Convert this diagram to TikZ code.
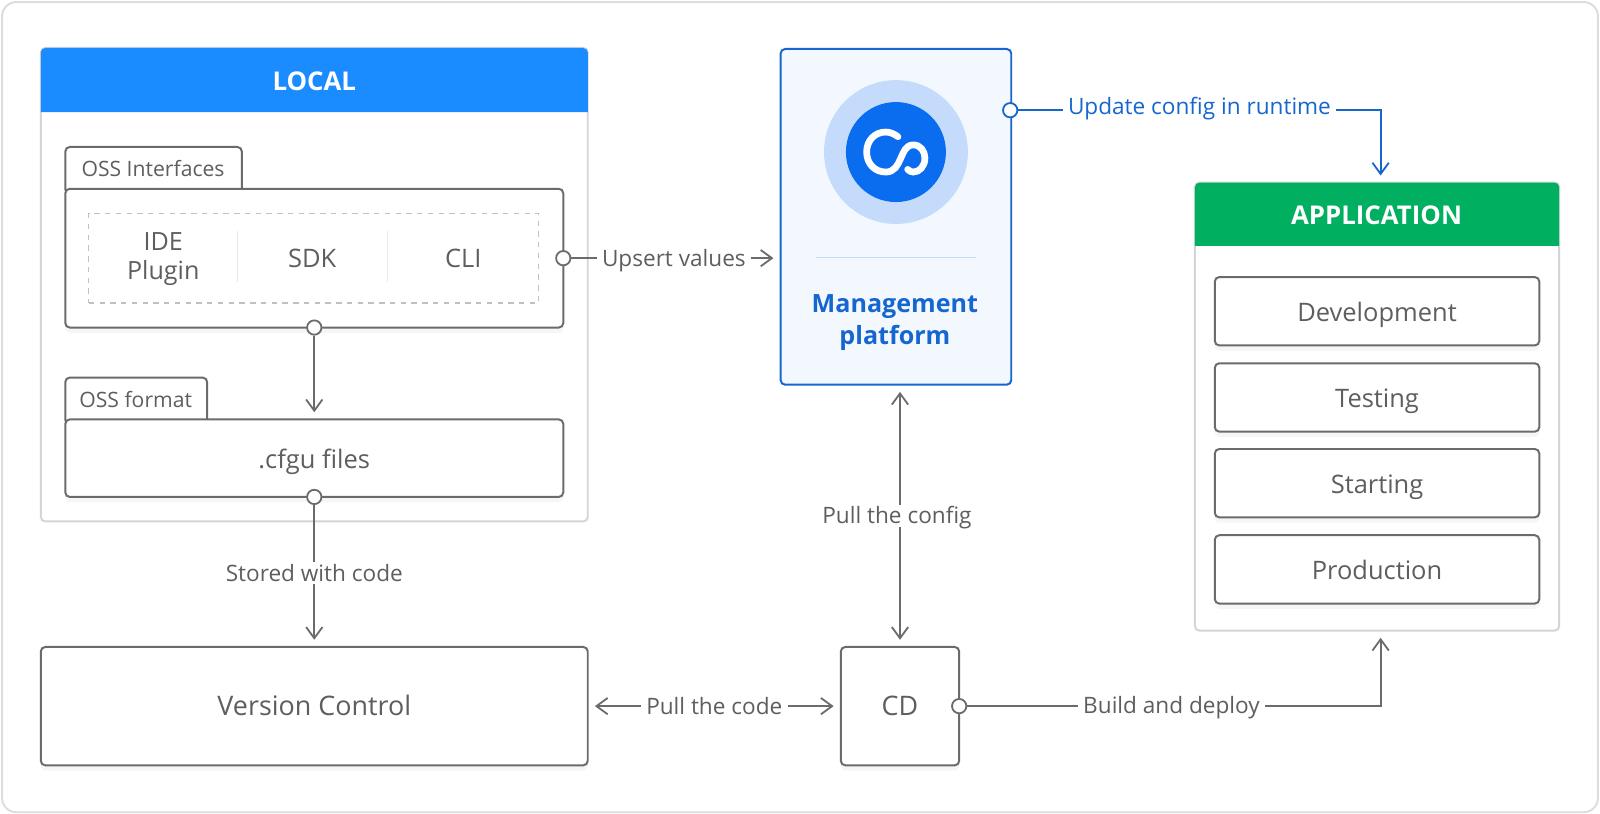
\documentclass[tikz,border=0pt]{standalone}
\usepackage{fontspec}
\setmainfont{Open Sans}
\usetikzlibrary{arrows.meta,shadows}
\def\u{0.02cm}
\definecolor{inkgray}{HTML}{6B6B6E}
\definecolor{textgray}{HTML}{5E5E60}
\definecolor{panelgray}{HTML}{D4D5D6}
\definecolor{localblue}{HTML}{1A8CFF}
\definecolor{appgreen}{HTML}{00B060}
\definecolor{mgmtblue}{HTML}{1666D0}
\definecolor{mgmtfill}{HTML}{F3F8FF}
\definecolor{halo}{HTML}{C5DBFB}
\definecolor{logoblue}{HTML}{0A6CEE}
\tikzset{
  >={Straight Barb[length=2.2mm,width=3.2mm]},
  panel/.style={draw=panelgray, line width=1.1pt, rounded corners=2.5pt, fill=white, outer sep=0pt},
  box/.style={draw=inkgray, line width=1.1pt, rounded corners=2.5pt, fill=white, outer sep=0pt,
    drop shadow={opacity=.07, shadow xshift=0pt, shadow yshift=-3pt}},
  txt/.style={text=textgray, font=\fontsize{14.2}{17}\selectfont, text height=11pt, text depth=0pt},
  twolines/.style={text=textgray, font=\fontsize{14}{16}\selectfont, align=center},
  small/.style={text=textgray, font=\fontsize{11.8}{14}\selectfont, text height=9.2pt, text depth=0pt},
  head/.style={text=white, font=\fontsize{14.4}{17}\selectfont\bfseries, text height=11.2pt, text depth=0pt},
  port/.style={circle, draw=inkgray, line width=1pt, fill=white, inner sep=0pt, minimum size=8pt},
  link/.style={draw=inkgray, line width=1pt},
  lbl/.style={text=textgray, font=\fontsize{12.6}{14}\selectfont, fill=white, inner xsep=3pt, inner ysep=1.5pt, text height=9pt, text depth=0pt}
}
\begin{document}
\begin{tikzpicture}[x=\u, y=-\u]
  \useasboundingbox (0,0) rectangle (1568,797.7);
  \node[panel, draw=panelgray!80, rounded corners=8pt, minimum width=1564*\u, minimum height=794*\u] (frame) at (784,399) {};

  % local panel
  \node[panel, minimum width=536*\u, minimum height=464*\u] (local) at (308,279) {};
  \fill[localblue, rounded corners=2.5pt] (40,110) -- (40,47) -- (576,47) -- (576,60) [sharp corners] -- (576,110) -- cycle;
  \node[head] (localhead) at (308,79) {LOCAL};

  \draw[box] (64,190) -- (64,144) -- (237,144) -- (237,190) -- cycle;
  \node[small] (osstab) at (150,165) {OSS Interfaces};
  \node[box, minimum width=488*\u, minimum height=136*\u] (oss) at (308,253) {};
  \node[draw=panelgray!90!black, dashed, line width=.7pt, minimum width=441*\u, minimum height=88*\u] (tools) at (307.5,253) {};
  \node[twolines] (ide) at (160,254) {IDE\\Plugin};
  \node[txt] (sdk) at (306,252) {SDK};
  \node[txt] (cli) at (454,252) {CLI};
  \draw[panelgray!50, line width=.7pt] (233,226) -- (233,276) (380,226) -- (380,276);

  \draw[box] (64,416) -- (64,370) -- (203,370) -- (203,416) -- cycle;
  \node[small] (fmttab) at (133,391) {OSS format};
  \node[box, txt, minimum width=488*\u, minimum height=76*\u] (cfgu) at (308,449) {.cfgu files};

  % bottom row
  \node[box, txt, font=\fontsize{15}{17}\selectfont, minimum width=536*\u, minimum height=116*\u] (vcs) at (308,692) {Version Control};
  \node[box, txt, font=\fontsize{15}{17}\selectfont, minimum width=116*\u, minimum height=116*\u] (cd) at (882,692) {CD};

  % management platform
  \node[panel, draw=mgmtblue, fill=mgmtfill, minimum width=226*\u, minimum height=329*\u] (mgmt) at (878,212.5) {};
  \node[circle, fill=halo, minimum size=141*\u, inner sep=0pt] (logohalo) at (878,149) {};
  \node[circle, fill=logoblue, minimum size=98*\u, inner sep=0pt] (logo) at (878,149) {};
  \begin{scope}[shift={(878,149)}]
    \draw[white, line width=6.6*\u, line cap=round] (2,-15) .. controls (-2,-18) and (-6,-19.6) .. (-10,-19.6)
      .. controls (-21,-19.6) and (-28.7,-11) .. (-28.7,0) .. controls (-28.7,11) and (-21,19.6) .. (-10,19.6)
      .. controls (7,19.6) and (3,-7) .. (17,-7) .. controls (24,-7) and (28.4,-1) .. (28.4,6)
      .. controls (28.4,14) and (23,19.6) .. (17,19.6) .. controls (15,19.6) and (13,18.5) .. (11.5,17);
  \end{scope}
  \draw[halo, line width=.7pt] (800,252) -- (956,252);
  \node[text=mgmtblue, font=\fontsize{14}{17.5}\selectfont\bfseries, align=center] (mgmtlabel) at (877,316) {Management\\platform};

  % application panel
  \node[panel, minimum width=357*\u, minimum height=439*\u] (app) at (1349.5,398.5) {};
  \fill[appgreen, rounded corners=2.5pt] (1171,241) -- (1171,179) -- (1528,179) -- (1528,190) [sharp corners] -- (1528,241) -- cycle;
  \node[head] (apphead) at (1349,210) {APPLICATION};
  \node[box, txt, minimum width=318*\u, minimum height=67*\u] (dev) at (1349.5,305) {Development};
  \node[box, txt, minimum width=318*\u, minimum height=67*\u] (test) at (1349.5,389.5) {Testing};
  \node[box, txt, minimum width=318*\u, minimum height=67*\u] (start) at (1349.5,473.5) {Starting};
  \node[box, txt, minimum width=318*\u, minimum height=67*\u] (prod) at (1349.5,558) {Production};

  % free ends
  \coordinate (updateend) at (1353,179);
  \coordinate (buildend) at (1353,618);
  \coordinate (upsertend) at (765,253);
  \coordinate (configtop) at (882,377);

  % ports
  \node[port] (ossright) at (552,253) {};
  \node[port] (ossdown) at (308,321) {};
  \node[port] (cfgudown) at (308,487) {};
  \node[port] (cdright) at (940,692) {};
  \node[port, draw=mgmtblue] (mgmtright) at (990,108) {};

  % connectors
  \path[link, ->, shorten >=4pt] (ossdown) edge (cfgu)
    (cfgudown) edge node[lbl, pos=.48] {Stored with code} (vcs)
    (ossright) edge node[lbl, pos=.49] {Upsert values} (upsertend);
  \path[link, <->, shorten >=4pt, shorten <=4pt] (vcs) edge node[lbl, pos=.5] {Pull the code} (cd)
    (cd) edge node[lbl, pos=.5, xshift=-3*\u] {Pull the config} (configtop);
  \draw[link, ->, shorten >=4pt] (cdright) -| (buildend)
    node[lbl, pos=.247, yshift=1*\u] {Build and deploy};
  \draw[link, draw=mgmtblue, ->, shorten >=4pt] (mgmtright) -| (updateend)
    node[lbl, text=mgmtblue, pos=.25, yshift=4*\u] {Update config in runtime};
\end{tikzpicture}
\end{document}
